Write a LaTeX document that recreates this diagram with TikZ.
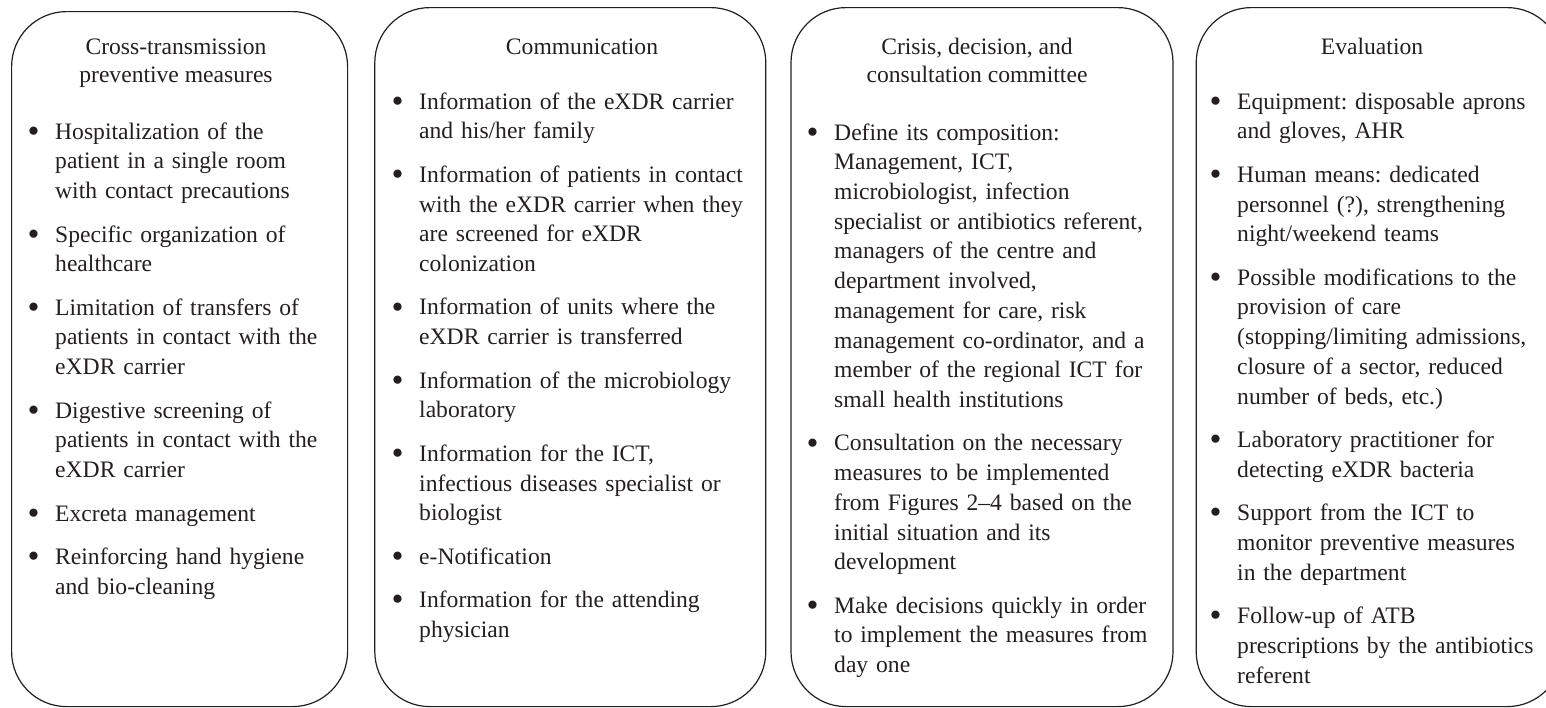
\documentclass[tikz,border=0pt]{standalone}
\usepackage{fontspec}
\setmainfont{Liberation Serif}
\usepackage{xcolor}
\definecolor{ink}{RGB}{35,31,32}
\usetikzlibrary{positioning}

\newcommand{\headfont}{\fontsize{23.6}{28}\selectfont}
\newcommand{\listfont}{\fontsize{23.6}{29.7}\selectfont\frenchspacing}
% one bulleted entry, lines broken by hand with \newline
\newcommand{\point}[1]{\par\noindent\hangindent=27.5pt\hangafter=1%
  \makebox[27.5pt][l]{\strut\raisebox{-3.2pt}{\scalebox{1.45}{\textbullet}}}#1\par\vspace{13.8pt}}

\begin{document}
\begin{tikzpicture}[x=1pt, y=-1pt, text=ink,
    panel/.style={draw=ink, line width=1.2pt, rounded corners=55pt, inner sep=0pt, anchor=north west},
    heading/.style={anchor=north, align=center, inner sep=0pt, font=\headfont},
    bullets/.style={anchor=north west, inner sep=0pt, text width=#1, align=left, font=\listfont}]

    \useasboundingbox (0,0) rectangle (1546,707);
    \clip (0,0) rectangle (1546,707);

    % Panels
    \node [panel, minimum width=336pt, minimum height=695pt] (cross) at (11,11) {};
    \node [panel, minimum width=391pt, minimum height=699pt, right=26pt of cross.north east, anchor=north west, yshift=4pt] (comm) {};
    \node [panel, minimum width=382pt, minimum height=699pt, right=24pt of comm.north east, anchor=north west] (crisis) {};
    \node [panel, minimum width=366pt, minimum height=699pt, right=22pt of crisis.north east, anchor=north west] (eval) {};

    % Headings
    \node [heading] (crosshead) at (176,34.4) {\strut Cross-transmission\\\strut preventive measures};
    \node [heading] (commhead) at (582,34.4) {\strut Communication};
    \node [heading] (crisishead) at (977,34.4) {\strut Crisis, decision, and\\\strut consultation committee};
    \node [heading] (evalhead) at (1372,34.4) {\strut Evaluation};

    % Lists
    \node [bullets=300pt] (crosslist) at (27.5,109.2) {
        \point{Hospitalization of the\newline patient in a single room\newline with contact precautions}
        \point{Specific organization of\newline healthcare}
        \point{Limitation of transfers of\newline patients in contact with the\newline eXDR carrier}
        \point{Digestive screening of\newline patients in contact with the\newline eXDR carrier}
        \point{Excreta management}
        \point{Reinforcing hand hygiene\newline and bio-cleaning}
    };
    \node [bullets=370pt] (commlist) at (391.5,79.2) {
        \point{Information of the eXDR carrier\newline and his/her family}
        \point{Information of patients in contact\newline with the eXDR carrier when they\newline are screened for eXDR\newline colonization}
        \point{Information of units where the\newline eXDR carrier is transferred}
        \point{Information of the microbiology\newline laboratory}
        \point{Information for the ICT,\newline infectious diseases specialist or\newline biologist}
        \point{e-Notification}
        \point{Information for the attending\newline physician}
    };
    \node [bullets=360pt] (crisislist) at (806.5,110.2) {
        \point{Define its composition:\newline Management, ICT,\newline microbiologist, infection\newline specialist or antibiotics referent,\newline managers of the centre and\newline department involved,\newline management for care, risk\newline management co-ordinator, and a\newline member of the regional ICT for\newline small health institutions}
        \point{Consultation on the necessary\newline measures to be implemented\newline from Figures 2--4 based on the\newline initial situation and its\newline development}
        \point{Make decisions quickly in order\newline to implement the measures from\newline day one}
    };
    \node [bullets=345pt] (evallist) at (1209.5,79.2) {
        \point{Equipment: disposable aprons\newline and gloves, AHR}
        \point{Human means: dedicated\newline personnel (?), strengthening\newline night/weekend teams}
        \point{Possible modifications to the\newline provision of care\newline (stopping/limiting admissions,\newline closure of a sector, reduced\newline number of beds, etc.)}
        \point{Laboratory practitioner for\newline detecting eXDR bacteria}
        \point{Support from the ICT to\newline monitor preventive measures\newline in the department}
        \point{Follow-up of ATB\newline prescriptions by the antibiotics\newline referent}
    };
\end{tikzpicture}
\end{document}
